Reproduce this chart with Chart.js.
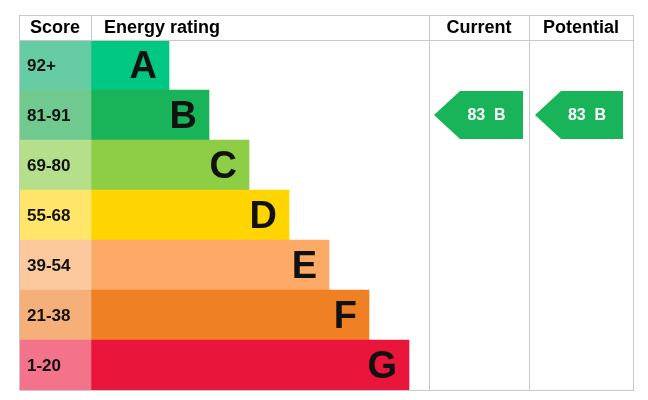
<!DOCTYPE html>
<html><head><meta charset="utf-8">
<script src="https://cdn.jsdelivr.net/npm/chart.js@4"></script>
<style>html,body{margin:0;padding:0;background:#fff}#w{width:648px;height:400px}</style>
</head><body><div id="w"><canvas id="c"></canvas></div>
<script>
const bands = ['A','B','C','D','E','F','G'];
const scoreLabels = ['92+','81-91','69-80','55-68','39-54','21-38','1-20'];
const scoreWidth = [72,72,72,72,72,72,72];
const barLength = [78,118,158,198,238,278,318];
const bandColors = ['#00c781','#19b459','#8dce46','#ffd500','#fcaa65','#ef8023','#e9153b'];
const scoreColors = ['#66ccA3','#70c98f','#b5df8a','#ffe66a','#fcc89e','#f5b07a','#f2738a'];
const currentScore = 83, currentBand = 'B';
const potentialScore = 83, potentialBand = 'B';

const F = '"Liberation Sans", Arial, sans-serif';
const deco = {
  id:'deco',
  afterDatasetsDraw(ch){
    const ctx=ch.ctx, x=ch.scales.x, y=ch.scales.y;
    const L=19,R=633,T=15,B=390;
    const c1=x.getPixelForValue(72), c2=429, c3=529;
    ctx.save();
    ctx.strokeStyle='#c8c8c8'; ctx.lineWidth=1;
    ctx.strokeRect(L+0.5,T+0.5,R-L,B-T);
    ctx.beginPath();
    ctx.moveTo(L,40.5);ctx.lineTo(R,40.5);
    [c1,c2,c3].forEach(v=>{ctx.moveTo(Math.round(v)+0.5,T);ctx.lineTo(Math.round(v)+0.5, v===c1?40:B);});
    ctx.stroke();
    ctx.fillStyle='#000'; ctx.font='bold 18px '+F; ctx.textBaseline='middle';
    ctx.textAlign='center';
    ctx.fillText('Score',(L+c1)/2,28);
    ctx.textAlign='left'; ctx.fillText('Energy rating',104,28);
    ctx.textAlign='center';
    ctx.fillText('Current',(c2+c3)/2,28);
    ctx.fillText('Potential',(c3+R)/2,28);
    bands.forEach((b,i)=>{
      const yy=y.getPixelForValue(i);
      ctx.textAlign='left'; ctx.font='bold 17px '+F; ctx.fillStyle='#111';
      ctx.fillText(scoreLabels[i],27,yy+1);
      ctx.textAlign='right'; ctx.font='bold 38px '+F; ctx.fillStyle='#111';
      ctx.fillText(b,x.getPixelForValue(72+barLength[i])-12,yy+3);
    });
    function arrow(left,right,score,band){
      const i=bands.indexOf(band), yy=y.getPixelForValue(i), h=24;
      ctx.fillStyle=bandColors[i];
      ctx.beginPath();
      ctx.moveTo(left,yy);ctx.lineTo(left+26,yy-h);ctx.lineTo(right,yy-h);
      ctx.lineTo(right,yy+h);ctx.lineTo(left+26,yy+h);ctx.closePath();ctx.fill();
      ctx.fillStyle='#fff';ctx.font='bold 16px '+F;ctx.textAlign='center';
      ctx.fillText(score+'  '+band,(left+right)/2+8,yy+1);
    }
    arrow(434,523,currentScore,currentBand);
    arrow(535,623,potentialScore,potentialBand);
    ctx.restore();
  }
};
new Chart(document.getElementById('c'),{
  type:'bar',
  data:{labels:bands,datasets:[
    {data:scoreWidth,backgroundColor:scoreColors,stack:'s'},
    {data:barLength,backgroundColor:bandColors,stack:'s'}
  ]},
  options:{indexAxis:'y',responsive:true,maintainAspectRatio:false,animation:false,
    layout:{padding:{left:19,right:15,top:40,bottom:10}},
    datasets:{bar:{barPercentage:1,categoryPercentage:1,borderWidth:0}},
    plugins:{legend:{display:false},tooltip:{enabled:false}},
    scales:{x:{display:false,stacked:true,min:0,max:614},y:{display:false,stacked:true}}},
  plugins:[deco]
});
</script></body></html>
